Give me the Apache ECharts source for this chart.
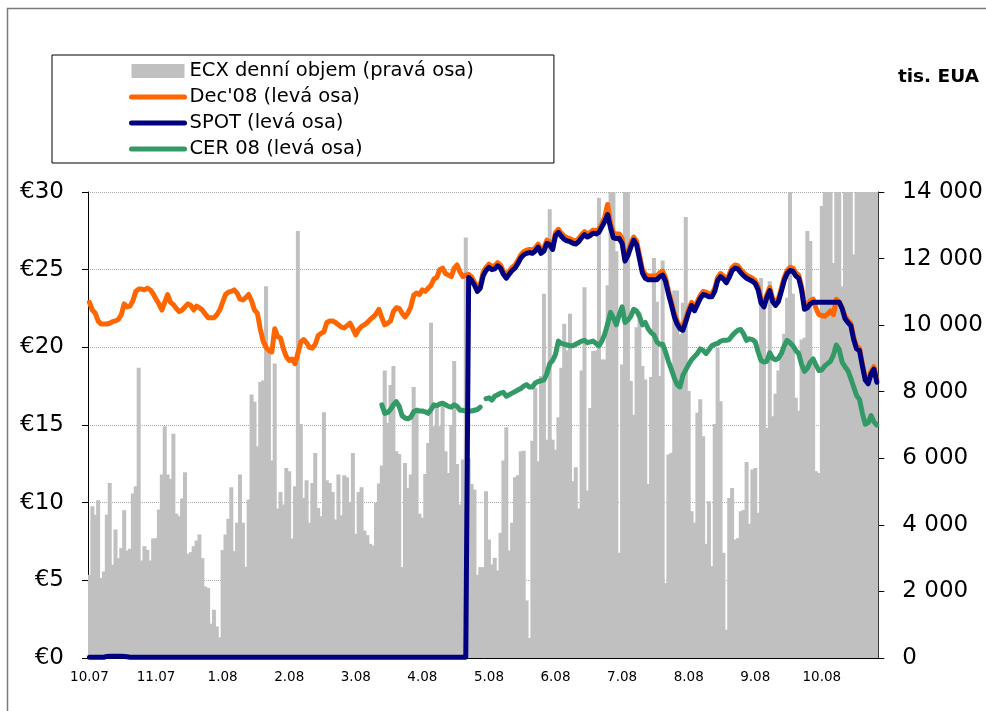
<!DOCTYPE html>
<html>
<head>
<meta charset="utf-8">
<title>ECX – denní objem a ceny povolenek</title>
<script src="https://cdn.jsdelivr.net/npm/echarts@6/dist/echarts.min.js"></script>
<style>
  html, body { margin: 0; padding: 0; background: #fff; }
  #chart { width: 986px; height: 711px; }
</style>
</head>
<body>
<div id="chart"></div>
<script>
// -----------------------------------------
// DATA (one value per trading day, 10.2007 - 10.2008)
// -----------------------------------------
const tickLabels = ['10.07', '11.07', '1.08', '2.08', '3.08', '4.08', '5.08', '6.08', '7.08', '8.08', '9.08', '10.08'];
const LABEL_STEP = 23; // a label every 23rd trading day

// ECX daily volume, thousand EUA (right axis)
const volume = [
  2500, 4560, 4300, 4740, 2400, 2600, 4300, 5260, 2800, 3860,
  3000, 3300, 4440, 3230, 3280, 4940, 5160, 8720, 2930, 3360,
  3250, 2930, 3590, 3600, 4460, 5510, 6960, 5510, 5380, 6740,
  4330, 4260, 4790, 5580, 3130, 3180, 3360, 3530, 3710, 3000,
  2150, 2100, 1030, 1450, 950, 620, 3240, 3710, 4180, 5130,
  3210, 4060, 5510, 4060, 2740, 4760, 7920, 7700, 6360, 8290,
  8340, 11170, 9170, 5930, 8850, 4490, 4990, 4610, 5710, 5610,
  3590, 5160, 12830, 7030, 4810, 5340, 4060, 5260, 6160, 4510,
  4260, 7380, 5340, 5260, 4990, 4160, 5510, 4290, 5490, 5430,
  4690, 6160, 3730, 4990, 5130, 3830, 3690, 3430, 3380, 4660,
  5240, 5780, 8640, 7060, 8200, 8770, 6210, 6130, 2730, 5860,
  5110, 5510, 8140, 7520, 4330, 4210, 5530, 6460, 10070, 6960,
  7570, 6960, 7570, 6210, 5560, 7000, 8920, 5830, 4610, 5960,
  12630, 6000, 5230, 5060, 2500, 2730, 2730, 5010, 3560, 2810,
  3010, 2630, 3760, 5930, 6930, 3230, 4060, 5430, 5490, 6210,
  6230, 1730, 600, 6530, 8120, 5910, 8470, 10940, 6560, 13480,
  6560, 6260, 7230, 8720, 10040, 9240, 10340, 5310, 5730, 4490,
  8640, 11140, 5030, 7510, 9220, 9240, 13830, 8970, 8970, 11200,
  14500, 14500, 12220, 3160, 8820, 14500, 14500, 8320, 7310, 9940,
  10400, 8770, 8370, 5230, 8440, 12020, 10700, 8470, 11940, 2250,
  6110, 6160, 11040, 11040, 9720, 10670, 13250, 8020, 4410, 4060,
  7370, 7770, 6660, 3430, 4710, 2760, 7030, 9320, 7710, 3160,
  850, 4810, 5110, 3560, 3600, 4410, 4450, 5890, 4030, 5660,
  5710, 4360, 11420, 10570, 6910, 11320, 7260, 7940, 8640, 9040,
  9740, 10820, 14500, 10940, 7820, 7430, 9570, 9620, 12830, 12530,
  8970, 5610, 5560, 13580, 14500, 14500, 14500, 11870, 14500, 14500,
  11170, 14500, 14500, 14500, 12120, 14500, 14500, 14500, 14500, 14500,
  14500, 14500, 14500
];

// Dec'08 futures, EUR (left axis)
const dec08 = [
  22.9, 22.4, 22.2, 21.7, 21.5, 21.5, 21.5, 21.55, 21.65, 21.7,
  21.8, 22.1, 22.8, 22.6, 22.65, 23.0, 23.6, 23.75, 23.75, 23.7,
  23.8, 23.7, 23.45, 23.1, 22.8, 22.4, 22.9, 23.4, 22.9, 22.75,
  22.5, 22.3, 22.4, 22.6, 22.8, 22.7, 22.4, 22.65, 22.55, 22.4,
  22.15, 21.9, 21.9, 21.9, 22.1, 22.4, 22.9, 23.4, 23.55, 23.6,
  23.7, 23.5, 23.1, 23.05, 23.2, 23.4, 23.0, 22.4, 22.2, 21.2,
  20.4, 20.0, 19.8, 19.7, 21.2, 20.7, 20.6, 19.9, 19.4, 19.15,
  19.25, 18.95, 19.6, 20.35, 20.5, 20.3, 20.0, 19.95, 20.2, 20.75,
  20.9, 21.0, 21.6, 21.7, 21.7, 21.6, 21.45, 21.3, 21.25, 21.4,
  21.55, 21.2, 20.8, 21.15, 21.35, 21.45, 21.6, 21.8, 21.95, 22.15,
  22.45, 21.9, 21.45, 21.55, 21.7, 22.3, 22.55, 22.5, 22.2, 21.95,
  22.2, 22.6, 23.35, 23.5, 23.4, 23.7, 23.6, 23.8, 24.0, 24.4,
  24.5, 25.0, 25.1, 24.75, 24.65, 24.55, 25.1, 25.3, 24.85, 24.55,
  24.65, 24.7, 24.55, 24.2, 23.8, 24.0, 24.85, 25.15, 25.35, 25.2,
  25.25, 25.45, 25.3, 24.9, 24.65, 24.9, 25.15, 25.3, 25.6, 25.95,
  26.15, 26.25, 26.3, 26.25, 26.4, 26.65, 26.25, 26.4, 26.9, 26.8,
  26.5, 27.4, 27.6, 27.35, 27.15, 27.05, 27.0, 26.9, 26.85, 27.0,
  27.25, 27.45, 27.3, 27.4, 27.55, 27.5, 27.6, 27.95, 28.4, 29.2,
  28.0, 27.35, 27.3, 27.3, 27.0, 25.8, 26.1, 26.7, 27.1, 26.85,
  25.95, 25.05, 24.7, 24.6, 24.6, 24.6, 24.6, 24.8, 24.9, 24.5,
  23.65, 22.95, 22.2, 21.7, 21.35, 21.3, 21.85, 22.45, 22.9, 22.55,
  22.95, 23.35, 23.6, 23.55, 23.45, 23.45, 23.8, 24.5, 24.75, 24.6,
  24.35, 24.7, 25.15, 25.3, 25.25, 25.0, 24.8, 24.65, 24.55, 24.45,
  24.3, 23.9, 23.05, 22.8, 23.4, 23.85, 23.15, 22.9, 23.15, 23.8,
  24.5, 24.95, 25.15, 25.1, 24.8, 24.65, 23.9, 22.65, 22.75, 23.0,
  23.1, 22.5, 22.1, 22.05, 22.0, 22.15, 22.35, 22.1, 23.1, 22.9,
  22.55, 22.0, 21.75, 21.55, 20.65, 20.05, 19.95, 18.95, 18.05, 17.8,
  18.45, 18.75, 17.9
];

// SPOT EUA, EUR (left axis) - phase I allowances near zero until 5.08
const spot = [
  0.05, 0.05, 0.05, 0.05, 0.05, 0.05, 0.1, 0.12, 0.12, 0.12,
  0.12, 0.12, 0.1, 0.08, 0.05, 0.05, 0.05, 0.05, 0.05, 0.05,
  0.05, 0.05, 0.05, 0.05, 0.05, 0.05, 0.05, 0.05, 0.05, 0.05,
  0.05, 0.05, 0.05, 0.05, 0.05, 0.05, 0.05, 0.05, 0.05, 0.05,
  0.05, 0.05, 0.05, 0.05, 0.05, 0.05, 0.05, 0.05, 0.05, 0.05,
  0.05, 0.05, 0.05, 0.05, 0.05, 0.05, 0.05, 0.05, 0.05, 0.05,
  0.05, 0.05, 0.05, 0.05, 0.05, 0.05, 0.05, 0.05, 0.05, 0.05,
  0.05, 0.05, 0.05, 0.05, 0.05, 0.05, 0.05, 0.05, 0.05, 0.05,
  0.05, 0.05, 0.05, 0.05, 0.05, 0.05, 0.05, 0.05, 0.05, 0.05,
  0.05, 0.05, 0.05, 0.05, 0.05, 0.05, 0.05, 0.05, 0.05, 0.05,
  0.05, 0.05, 0.05, 0.05, 0.05, 0.05, 0.05, 0.05, 0.05, 0.05,
  0.05, 0.05, 0.05, 0.05, 0.05, 0.05, 0.05, 0.05, 0.05, 0.05,
  0.05, 0.05, 0.05, 0.05, 0.05, 0.05, 0.05, 0.05, 0.05, 0.05,
  0.05, 24.5, 24.3, 24.0, 23.6, 23.8, 24.6, 24.95, 25.15, 25.0,
  25.05, 25.25, 25.1, 24.7, 24.45, 24.7, 24.95, 25.1, 25.4, 25.75,
  25.95, 26.05, 26.1, 26.05, 26.2, 26.45, 26.05, 26.2, 26.7, 26.6,
  26.3, 27.2, 27.4, 27.15, 26.95, 26.85, 26.8, 26.7, 26.65, 26.8,
  27.05, 27.25, 27.1, 27.2, 27.35, 27.3, 27.4, 27.75, 28.1, 28.55,
  27.7, 27.05, 27.0, 27.0, 26.7, 25.55, 25.9, 26.45, 26.9, 26.6,
  25.7, 24.8, 24.45, 24.35, 24.35, 24.35, 24.35, 24.55, 24.65, 24.25,
  23.45, 22.75, 22.0, 21.5, 21.2, 21.1, 21.65, 22.25, 22.7, 22.35,
  22.75, 23.15, 23.4, 23.35, 23.25, 23.25, 23.6, 24.3, 24.55, 24.4,
  24.15, 24.5, 24.95, 25.1, 25.05, 24.8, 24.6, 24.45, 24.35, 24.25,
  24.1, 23.7, 22.85, 22.6, 23.2, 23.65, 22.95, 22.7, 22.95, 23.6,
  24.3, 24.75, 24.95, 24.9, 24.6, 24.45, 23.7, 22.45, 22.55, 22.8,
  22.9, 22.9, 22.9, 22.9, 22.9, 22.9, 22.9, 22.9, 22.9, 22.9,
  22.5, 21.85, 21.6, 21.4, 20.5, 19.9, 19.8, 18.8, 17.9, 17.65,
  18.3, 18.6, 17.75
];

// CER 08, EUR (left axis) - quoted from trading day 101, null = no quote
const CER_FIRST_DAY = 101;
const cer08 = [
  16.3, 15.75, 15.8, 16.0, 16.3, 16.5, 16.2, 15.6, 15.45, 15.4,
  15.5, 15.85, 15.95, 15.9, 15.9, 15.85, 15.75, 16.0, 16.3, 16.25,
  16.35, 16.4, 16.3, 16.2, 16.15, 16.3, 16.2, 15.95, 15.95, 15.9,
  15.9, 15.9, 15.95, 16.0, 16.15, null,
  16.7, 16.75, 16.6, 16.85, 16.95, 17.05, 17.1, 16.85, 16.95, 17.05,
  17.15, 17.25, 17.35, 17.5, 17.6, 17.45, 17.45, 17.7, 17.8, 17.85,
  17.9, 18.3, 18.95, 19.15, 19.55, 20.4, 20.25, 20.2, 20.15, 20.1,
  20.1, 20.2, 20.3, 20.4, 20.45, 20.3, 20.35, 20.4, 20.25, 20.1,
  20.4, 20.85, 21.5, 22.25, 21.9, 21.45, 22.1, 22.6, 21.6, 21.75,
  22.0, 22.45, 22.35, 22.0, 21.45, 21.6, 21.2, 20.95, 20.8, 20.35,
  20.2, 20.2, 19.7, 19.1, 18.6, 18.05, 17.6, 17.45,
  18.2, 18.55, 18.9, 19.2, 19.4, 19.6, 19.9, 19.8, 19.6, 19.85,
  20.1, 20.2, 20.25, 20.4, 20.45, 20.45, 20.5, 20.75, 20.95, 21.1,
  21.15, 20.85, 20.45, 20.55, 20.5, 20.35, 19.7, 19.15, 19.05, 19.1,
  19.65, 19.3, 19.2, 19.3, 19.6, 20.1, 20.45, 20.3, 20.1, 19.8,
  19.6, 18.9, 18.45, 18.65, 19.05, 19.25, 18.85, 18.5, 18.55, 18.8,
  18.95, 19.1, 19.5, 20.15, 19.85, 19.05, 18.75, 18.5, 18.0, 17.45,
  16.9, 16.65, 15.75, 15.05, 15.15, 15.6, 15.2, 15.0
];

const NAMES = {
  volume: 'ECX denní objem (pravá osa)',
  dec08: "Dec'08 (levá osa)",
  spot: 'SPOT (levá osa)',
  cer: 'CER 08 (levá osa)'
};

const FONT = 'DejaVu Sans';

// -----------------------------------------
// CHART
// -----------------------------------------
const days = volume.map((_, i) => i);
const cerSeries = days.map(i => (i < CER_FIRST_DAY ? null : cer08[i - CER_FIRST_DAY]));

function thousands(v) {
  if (v < 1000) return String(v);
  return Math.floor(v / 1000) + ' ' + String(v % 1000).padStart(3, '0');
}

const chart = echarts.init(document.getElementById('chart'), null, { renderer: 'canvas' });

const option = {
  animation: false,
  backgroundColor: '#fff',
  textStyle: { fontFamily: FONT, color: '#000' },
  title: {
    text: 'tis. EUA',
    right: 2,
    top: 63,
    textStyle: { fontFamily: FONT, fontSize: 18.5, fontWeight: 'bold', color: '#000' }
  },
  legend: {
    orient: 'vertical',
    left: 52,
    top: 55,
    padding: [6, 80, 4, 77],
    itemWidth: 53,
    itemHeight: 14,
    itemGap: 6,
    borderColor: '#000',
    borderWidth: 1,
    backgroundColor: '#fff',
    selectedMode: false,
    lineStyle: { width: 5, cap: 'round' },
    textStyle: { fontFamily: FONT, fontSize: 19.5, color: '#000' },
    data: [
      { name: NAMES.volume, icon: 'rect' },
      { name: NAMES.dec08, itemStyle: { opacity: 0 } },
      { name: NAMES.spot, itemStyle: { opacity: 0 } },
      { name: NAMES.cer, itemStyle: { opacity: 0 } }
    ]
  },
  graphic: [
    {
      type: 'rect',
      silent: true,
      z: -1,
      shape: { x: 7.5, y: 8.5, width: 1000, height: 720 },
      style: { fill: 'none', stroke: '#7a7a7a', lineWidth: 1.5 }
    }
  ],
  grid: { left: 88, right: 107.7, top: 192, bottom: 53, containLabel: false },
  xAxis: {
    type: 'category',
    data: days,
    boundaryGap: true,
    axisLine: { lineStyle: { color: '#000', width: 1 } },
    axisTick: { alignWithLabel: true, interval: LABEL_STEP - 1, length: 5, lineStyle: { color: '#000' } },
    axisLabel: {
      interval: LABEL_STEP - 1,
      margin: 12,
      fontFamily: FONT,
      fontSize: 13.5,
      color: '#000',
      formatter: (v, idx) => tickLabels[idx / LABEL_STEP] || ''
    },
    splitLine: { show: false }
  },
  yAxis: [
    {
      type: 'value',
      position: 'left',
      min: 0,
      max: 30,
      interval: 5,
      axisLine: { show: true, lineStyle: { color: '#000', width: 1 } },
      axisTick: { show: true, length: 6, lineStyle: { color: '#000' } },
      axisLabel: { margin: 24, fontFamily: FONT, fontSize: 23, color: '#000', formatter: v => '€' + v },
      splitLine: { show: true, lineStyle: { color: '#a8a8a8', width: 1, type: [1, 1] } }
    },
    {
      type: 'value',
      position: 'right',
      min: 0,
      max: 14000,
      interval: 2000,
      axisLine: { show: true, lineStyle: { color: '#000', width: 1 } },
      axisTick: { show: true, length: 6, lineStyle: { color: '#000' } },
      axisLabel: { margin: 24, fontFamily: FONT, fontSize: 23, color: '#000', formatter: thousands },
      splitLine: { show: false }
    }
  ],
  series: [
    {
      // a bit wider than one day so neighbouring bars join without seams
      name: NAMES.volume,
      type: 'bar',
      yAxisIndex: 1,
      data: volume,
      barWidth: 4,
      itemStyle: { color: '#c0c0c0' },
      z: 1
    },
    {
      name: NAMES.cer,
      type: 'line',
      data: cerSeries,
      showSymbol: false,
      symbol: 'none',
      connectNulls: false,
      lineStyle: { color: '#339966', width: 5, cap: 'round', join: 'round' },
      itemStyle: { color: '#339966' },
      z: 3
    },
    {
      name: NAMES.dec08,
      type: 'line',
      data: dec08,
      showSymbol: false,
      symbol: 'none',
      lineStyle: { color: '#ff6600', width: 5, cap: 'round', join: 'round' },
      itemStyle: { color: '#ff6600' },
      z: 4
    },
    {
      name: NAMES.spot,
      type: 'line',
      data: spot,
      showSymbol: false,
      symbol: 'none',
      lineStyle: { color: '#000080', width: 5, cap: 'round', join: 'round' },
      itemStyle: { color: '#000080' },
      z: 5
    }
  ]
};

chart.setOption(option);
</script>
</body>
</html>
